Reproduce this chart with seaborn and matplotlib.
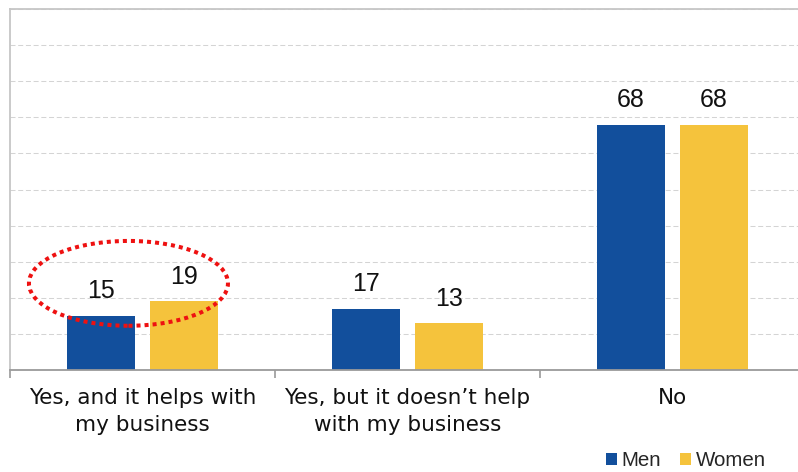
import matplotlib
matplotlib.use("Agg")
import matplotlib.pyplot as plt
from matplotlib.patches import Ellipse
from matplotlib.ticker import FixedLocator
import seaborn as sns
import pandas as pd

# Survey answers, share of respondents (%)
categories = ["Yes, and it helps with\nmy business",
              "Yes, but it doesn\u2019t help\nwith my business",
              "No"]
men = [15, 17, 68]
women = [19, 13, 68]
groups = ["Men", "Women"]
colors = ["#124F9C", "#F5C33C"]

df = pd.DataFrame({
    "answer": categories * 2,
    "group": [groups[0]] * 3 + [groups[1]] * 3,
    "value": men + women,
})

sns.set_theme(style="white")
plt.rcParams["font.family"] = ["DejaVu Sans"]

fig = plt.figure(figsize=(7.98, 4.72), dpi=100)
ax = fig.add_axes([10 / 798, 1 - 370 / 472, 795 / 798, 361 / 472])

sns.barplot(data=df, x="answer", y="value", hue="group", order=categories,
            hue_order=groups, palette=colors, width=0.626, gap=0.18,
            saturation=1, ax=ax, edgecolor="none")

ax.set_ylim(0, 100)
ax.set_xlim(-0.5, 2.5)
ax.set_yticks(range(0, 101, 10))
ax.yaxis.grid(True, color="#d4d4d4", linewidth=0.75, linestyle=(0, (4.8, 2.6)))
ax.set_axisbelow(True)
ax.tick_params(axis="y", left=False, labelleft=False)
ax.set_xlabel("")
ax.set_ylabel("")

# Category labels below the axis, ticks between groups
ax.tick_params(axis="x", which="major", length=0, pad=13, labelsize=15.5,
               labelcolor="#111111")
for lbl in ax.get_xticklabels():
    lbl.set_linespacing(1.42)
ax.xaxis.set_minor_locator(FixedLocator([-0.5, 0.5, 1.5, 2.5]))
ax.tick_params(axis="x", which="minor", bottom=True, length=6, width=1.2,
               color="#999999", direction="out")

for side in ["top", "left"]:
    ax.spines[side].set_color("#c6c6c6")
    ax.spines[side].set_linewidth(1.3)
ax.spines["right"].set_visible(False)
ax.spines["bottom"].set_color("#9a9a9a")
ax.spines["bottom"].set_linewidth(1.3)

# Value labels above each bar
for container in ax.containers:
    for bar in container:
        h = bar.get_height()
        ax.annotate(f"{h:.0f}", (bar.get_x() + bar.get_width() / 2, h),
                    xytext=(0, 12.5), textcoords="offset points",
                    ha="center", va="baseline", fontsize=18,
                    family=["Liberation Sans"], color="#111111")

# Highlight around the first answer
ax.add_patch(Ellipse((-0.053, 24.0), 0.751, 23.5, fill=False,
                     edgecolor="#EE1111", linewidth=2.9,
                     linestyle=(0, (1, 1)), clip_on=False, zorder=5))

leg = ax.legend(loc="upper left", bbox_to_anchor=(606 / 798, 1 - 451 / 472),
                bbox_transform=fig.transFigure, ncol=2, frameon=False,
                prop={"family": ["Liberation Sans"], "size": 14.8},
                handlelength=0.55, handleheight=0.55, handletextpad=0.22,
                columnspacing=0.9, borderpad=0, borderaxespad=0)

fig.savefig("out.png", dpi=100)
